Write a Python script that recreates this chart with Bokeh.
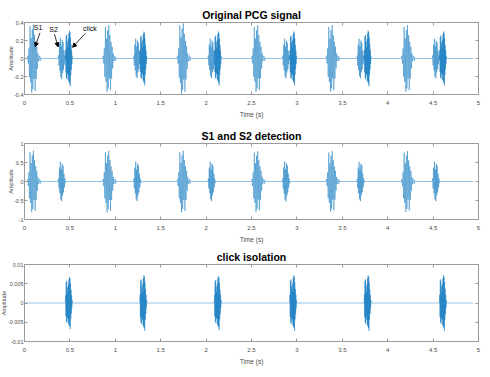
import numpy as np
from bokeh.plotting import figure
from bokeh.layouts import column
from bokeh.models import (LinearAxis, FixedTicker, Arrow, NormalHead, Label, Title,
                          Range1d, CustomJSTickFormatter)
from bokeh.embed import file_html
from bokeh.resources import INLINE

# ---------------- data ----------------
titles = ["Original PCG signal", "S1 and S2 detection", "click isolation"]
x_ticks = [0, 0.5, 1, 1.5, 2, 2.5, 3, 3.5, 4, 4.5, 5]
y_ticks_1 = [-0.4, -0.2, 0, 0.2, 0.4]
y_ticks_2 = [-1, -0.5, 0, 0.5, 1]
y_ticks_3 = [-0.01, -0.005, 0, 0.005, 0.01]
y_ranges = [(-0.4, 0.4), (-1, 1), (-0.01, 0.01)]

# burst onsets (s)
s1_starts = [0.03, 0.86, 1.68, 2.50, 3.32, 4.15]
s2_starts = [0.37, 1.20, 2.02, 2.84, 3.66, 4.49]
click_starts = [0.45, 1.27, 2.09, 2.92, 3.74, 4.57]
signal_end = 4.94

# normalised burst waveforms (successive oscillation peaks) and their sample spacing (s)
s1_shape = [0.08, -0.15, 0.3, -0.55, 0.95, -0.7, 0.6, -1.0, 0.85, -0.9, 1.0, -0.6, 0.7,
            -0.95, 0.5, -0.6, 0.35, -0.3, 0.15, -0.08, 0.02, 0.08, -0.07, 0.03]
s1_step = 0.0062
s2_shape = [0.15, -0.35, 0.7, -0.6, 1.0, -0.9, 0.6, -1.0, 0.9, -0.7, 0.8, -0.55, 0.4,
            -0.3, 0.15, -0.08]
s2_step = 0.005
click_shape = [0.3, -0.5, 0.8, -0.7, 0.85, -0.75, 0.6, -0.55, 0.4, -0.6, 0.7, -0.8, 0.9,
               -0.85, 1.0, -0.9, 0.95, -1.0, 0.75, -0.6, 0.5, -0.4, 0.3, -0.2, 0.1]
click_step = 0.003

# peak amplitude of each burst, per panel
orig_s1_amp = [0.38, 0.37, 0.39, 0.37, 0.37, 0.37]
orig_s2_amp = [0.23, 0.22, 0.22, 0.22, 0.22, 0.22]
orig_click_amp = [0.31, 0.30, 0.30, 0.30, 0.31, 0.30]
det_s1_amp = [0.81, 0.81, 0.81, 0.8, 0.8, 0.8]
det_s2_amp = [0.52, 0.52, 0.52, 0.53, 0.52, 0.52]
iso_click_amp = [0.0068, 0.0072, 0.007, 0.0072, 0.0072, 0.0072]

annotations = [("S1", 0.15, 0.34, 0.17, 0.285, 0.118, 0.13),
               ("S2", 0.32, 0.32, 0.33, 0.27, 0.37, 0.13),
               ("click", 0.72, 0.33, 0.67, 0.28, 0.53, 0.125)]


def build(components):
    pts = []
    for starts, amps, shape, step in components:
        for t0, a in zip(starts, amps):
            n = len(shape)
            ts = t0 + step * np.arange(n + 2)
            vals = [0.0] + [a * v for v in shape] + [0.0]
            pts.extend(zip(ts, vals))
    pts.sort(key=lambda p: p[0])
    pts = [(0.0, 0.0)] + pts + [(signal_end, 0.0)]
    return [p[0] for p in pts], [p[1] for p in pts]


sig1 = build([(s1_starts, orig_s1_amp, s1_shape, s1_step),
              (s2_starts, orig_s2_amp, s2_shape, s2_step),
              (click_starts, orig_click_amp, click_shape, click_step)])
sig2 = build([(s1_starts, det_s1_amp, s1_shape, s1_step),
              (s2_starts, det_s2_amp, s2_shape, s2_step)])
sig3 = build([(click_starts, iso_click_amp, click_shape, click_step)])

# ---------------- styling ----------------
FONT = "Liberation Sans"
GREY = "#4d4d4d"
LINE = "#0072BD"
fmt = CustomJSTickFormatter(code="return String(Math.round(tick*1e6)/1e6);")

panel_geom = [  # height, top, bottom
    (120, 22, 21),
    (125, 23, 26),
    (132, 19, 36),
]
yticks_all = [y_ticks_1, y_ticks_2, y_ticks_3]
sigs = [sig1, sig2, sig3]

figs = []
for i in range(3):
    h, top, bottom = panel_geom[i]
    p = figure(width=490, height=h, output_backend="svg", toolbar_location=None,
               x_range=Range1d(0, 5), y_range=Range1d(*y_ranges[i]),
               min_border_left=24, min_border_right=12,
               min_border_top=top, min_border_bottom=bottom,
               title=titles[i])
    p.title.text_font = FONT
    p.title.text_font_size = "10.5px"
    p.title.text_font_style = "bold"
    p.title.align = "center"
    p.title.text_color = "black"
    p.title.offset = 0
    p.title.standoff = 4
    p.grid.visible = False
    p.outline_line_color = "#9a9a9a"
    p.outline_line_width = 1
    p.background_fill_color = "white"
    p.border_fill_color = "white"

    p.line(sigs[i][0], sigs[i][1], color=LINE, line_width=0.5, line_alpha=0.85)

    p.xaxis.ticker = FixedTicker(ticks=x_ticks)
    p.yaxis.ticker = FixedTicker(ticks=yticks_all[i])
    p.xaxis.formatter = fmt
    p.yaxis.formatter = fmt
    p.xaxis.axis_label = "Time (s)"
    for ax in (p.xaxis[0], p.yaxis[0]):
        ax.axis_line_color = "#9a9a9a"
        ax.major_tick_in = 3
        ax.major_tick_out = 0
        ax.minor_tick_line_color = None
        ax.major_tick_line_color = "#9a9a9a"
        ax.major_label_text_font = FONT
        ax.major_label_text_font_size = "6px"
        ax.major_label_text_color = GREY
        ax.axis_label_text_font = FONT
        ax.axis_label_text_font_size = "6.5px"
        ax.axis_label_text_font_style = "normal"
        ax.axis_label_text_color = GREY
    p.yaxis.major_label_text_font_size = "5.5px"
    p.xaxis.major_label_standoff = 6
    p.xaxis.axis_label_standoff = 3
    p.yaxis.major_label_standoff = 1

    ylab = Title(text="Amplitude", align="center", text_font=FONT,
                 text_font_size="5.5px", text_font_style="normal",
                 text_color=GREY, offset=0, standoff=-4)
    p.add_layout(ylab, "left")

    # mirrored ticks on top and right
    for loc, tk in (("above", x_ticks), ("right", yticks_all[i])):
        ax = LinearAxis(ticker=FixedTicker(ticks=tk))
        ax.axis_line_color = None
        ax.major_tick_in = 3
        ax.major_tick_out = 0
        ax.minor_tick_line_color = None
        ax.major_tick_line_color = "#9a9a9a"
        ax.major_label_text_font_size = "0px"
        ax.major_label_text_alpha = 0
        ax.major_label_standoff = 0
        p.add_layout(ax, loc)

    if i == 0:
        for txt, lx, ly, xs, ys, xe, ye in annotations:
            p.add_layout(Label(x=lx, y=ly, text=txt, text_font=FONT,
                               text_font_size="7px", text_color="black",
                               text_align="center", text_baseline="middle"))
            p.add_layout(Arrow(x_start=xs, y_start=ys, x_end=xe, y_end=ye,
                               line_color="black", line_width=0.8,
                               end=NormalHead(size=4, fill_color="black",
                                              line_color="black")))
    figs.append(p)

layout = column(*figs, spacing=0)
open("out.html", "w").write(file_html(layout, INLINE))
